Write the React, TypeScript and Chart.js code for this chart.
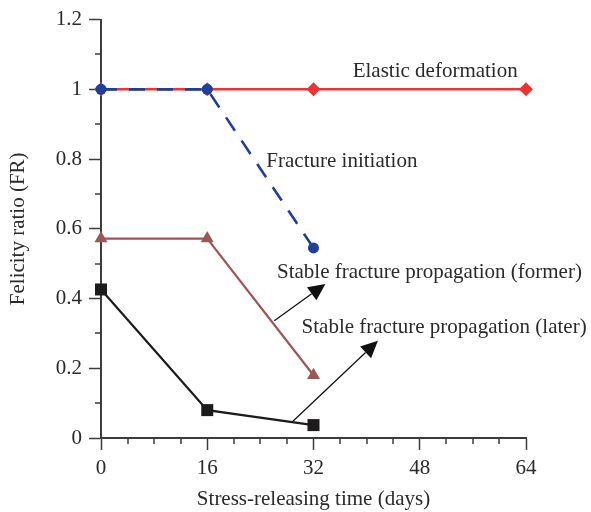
import { useEffect, useRef } from "react";
import { Chart, registerables } from "chart.js";

Chart.register(...registerables);

// Stress-releasing time (days) for each series
const elasticDays = [0, 16, 32, 64];
const otherDays = [0, 16, 32];

// Felicity ratio values
const elasticFR = [1, 1, 1, 1];
const initiationFR = [1, 1, 0.545];
const formerFR = [0.572, 0.572, 0.18];
const laterFR = [0.426, 0.08, 0.037];

// Series names
const seriesNames = [
  "Elastic deformation",
  "Fracture initiation",
  "Stable fracture propagation (former)",
  "Stable fracture propagation (later)",
];

// Callout text anchors in data units (left edge, vertical middle)
const noteX = [37.9, 24.9, 26.5, 30.2];
const noteY = [1.052, 0.793, 0.475, 0.316];

// Arrow tails and tips in data units
const arrowFromX = [26.1, 28.9];
const arrowFromY = [0.336, 0.048];
const arrowToX = [33.8, 41.7];
const arrowToY = [0.442, 0.279];

const xMajorStep = 16;
const xMinorStep = 4;
const yMinorStep = 0.1;

const FONT = '"Liberation Serif", "Times New Roman", serif';
const FONT_SIZE = 21;
const TEXT = "#2a2a2a";
const AXIS = "#3c3c3c";

const toPoints = (xs: number[], ys: number[]) => xs.map((x, i) => ({ x, y: ys[i] }));

const overlay = {
  id: "overlay",
  afterDatasetsDraw(chart: any) {
    const { ctx, scales } = chart;
    const x = scales.x;
    const y = scales.y;
    ctx.save();

    // minor tick marks
    ctx.strokeStyle = AXIS;
    ctx.lineWidth = 1.5;
    ctx.beginPath();
    x.ticks.forEach((t: any) => {
      if (t.value % xMajorStep !== 0) {
        const px = Math.round(x.getPixelForValue(t.value));
        ctx.moveTo(px, y.bottom);
        ctx.lineTo(px, y.bottom + 6);
      }
    });
    y.ticks.forEach((t: any) => {
      if (Math.round(t.value * 10) % 2 !== 0) {
        const py = Math.round(y.getPixelForValue(t.value));
        ctx.moveTo(x.left, py);
        ctx.lineTo(x.left - 6, py);
      }
    });
    ctx.stroke();

    // callout text
    ctx.fillStyle = TEXT;
    ctx.font = `${FONT_SIZE}px ${FONT}`;
    ctx.textAlign = "left";
    ctx.textBaseline = "middle";
    seriesNames.forEach((name, i) => {
      ctx.fillText(name, x.getPixelForValue(noteX[i]), y.getPixelForValue(noteY[i]));
    });

    // arrows
    ctx.strokeStyle = "#111";
    ctx.fillStyle = "#111";
    ctx.lineWidth = 1.3;
    arrowFromX.forEach((_, i) => {
      const x0 = x.getPixelForValue(arrowFromX[i]);
      const y0 = y.getPixelForValue(arrowFromY[i]);
      const x1 = x.getPixelForValue(arrowToX[i]);
      const y1 = y.getPixelForValue(arrowToY[i]);
      const ang = Math.atan2(y1 - y0, x1 - x0);
      const len = 17;
      const half = 8;
      const bx = x1 - Math.cos(ang) * len;
      const by = y1 - Math.sin(ang) * len;
      ctx.beginPath();
      ctx.moveTo(x0, y0);
      ctx.lineTo(bx, by);
      ctx.stroke();
      ctx.beginPath();
      ctx.moveTo(x1, y1);
      ctx.lineTo(bx + Math.sin(ang) * half, by - Math.cos(ang) * half);
      ctx.lineTo(bx - Math.sin(ang) * half, by + Math.cos(ang) * half);
      ctx.closePath();
      ctx.fill();
    });

    ctx.restore();
  },
};

export default function App() {
  const ref = useRef<HTMLCanvasElement | null>(null);

  useEffect(() => {
    if (!ref.current) return;
    const chart = new Chart(ref.current, {
      type: "line",
      data: {
        datasets: [
          {
            label: seriesNames[0],
            data: toPoints(elasticDays, elasticFR),
            borderColor: "#ee3333",
            backgroundColor: "#ee3333",
            borderWidth: 2.5,
            pointStyle: "rectRot",
            pointRadius: 7,
            pointBorderWidth: 0,
            order: 4,
            clip: false,
          },
          {
            label: seriesNames[1],
            data: toPoints(otherDays, initiationFR),
            borderColor: "#1f3f9c",
            backgroundColor: "#1f3f9c",
            borderWidth: 2.6,
            borderDash: [16, 12],
            pointStyle: "circle",
            pointRadius: 5.5,
            pointBorderWidth: 0,
            order: 1,
            clip: false,
          },
          {
            label: seriesNames[2],
            data: toPoints(otherDays, formerFR),
            borderColor: "#9c5656",
            backgroundColor: "#9c5656",
            borderWidth: 2.2,
            pointStyle: "triangle",
            pointRadius: 7.5,
            pointBorderWidth: 0,
            order: 3,
            clip: false,
          },
          {
            label: seriesNames[3],
            data: toPoints(otherDays, laterFR),
            borderColor: "#1c1a1a",
            backgroundColor: "#1c1a1a",
            borderWidth: 2.2,
            pointStyle: "rect",
            pointRadius: 8.5,
            pointBorderWidth: 0,
            order: 2,
            clip: false,
          },
        ],
      },
      options: {
        responsive: false,
        animation: false,
        events: [],
        layout: { padding: { top: 16, right: 65, bottom: 0, left: 0 } },
        plugins: { legend: { display: false }, tooltip: { enabled: false } },
        elements: { line: { tension: 0 } },
        scales: {
          x: {
            type: "linear",
            min: 0,
            max: 64,
            afterFit: (s: any) => {
              s.height = 74;
            },
            ticks: {
              stepSize: xMinorStep,
              autoSkip: false,
              maxRotation: 0,
              color: TEXT,
              font: { family: FONT, size: FONT_SIZE },
              padding: 6,
              callback: (v: any) => (Number(v) % xMajorStep === 0 ? String(v) : ""),
            },
            grid: {
              drawOnChartArea: false,
              drawTicks: true,
              tickLength: 12,
              tickWidth: 1.5,
              tickColor: (c: any) =>
                c.tick && c.tick.value % xMajorStep === 0 ? AXIS : "rgba(0,0,0,0)",
            },
            border: { color: AXIS, width: 2 },
            title: {
              display: true,
              text: "Stress-releasing time (days)",
              color: TEXT,
              font: { family: FONT, size: FONT_SIZE },
              padding: { top: 0, bottom: 0 },
            },
          },
          y: {
            type: "linear",
            min: 0,
            max: 1.2,
            afterFit: (s: any) => {
              s.width = 101;
            },
            ticks: {
              stepSize: yMinorStep,
              autoSkip: false,
              color: TEXT,
              font: { family: FONT, size: FONT_SIZE },
              padding: 7,
              callback: (v: any) =>
                Math.round(Number(v) * 10) % 2 === 0 ? String(+Number(v).toFixed(1)) : "",
            },
            grid: {
              drawOnChartArea: false,
              drawTicks: true,
              tickLength: 12,
              tickWidth: 1.5,
              tickColor: (c: any) =>
                c.tick && Math.round(c.tick.value * 10) % 2 === 0 ? AXIS : "rgba(0,0,0,0)",
            },
            border: { color: AXIS, width: 2 },
            title: {
              display: true,
              text: "Felicity ratio (FR)",
              color: TEXT,
              font: { family: FONT, size: FONT_SIZE },
              padding: { top: 6, bottom: 0 },
            },
          },
        },
      },
      plugins: [overlay],
    });
    return () => chart.destroy();
  }, []);

  return (
    <div style={{ position: "absolute", left: 0, top: 0, width: 591, height: 512, background: "#fff" }}>
      <canvas ref={ref} width={591} height={512} />
    </div>
  );
}
